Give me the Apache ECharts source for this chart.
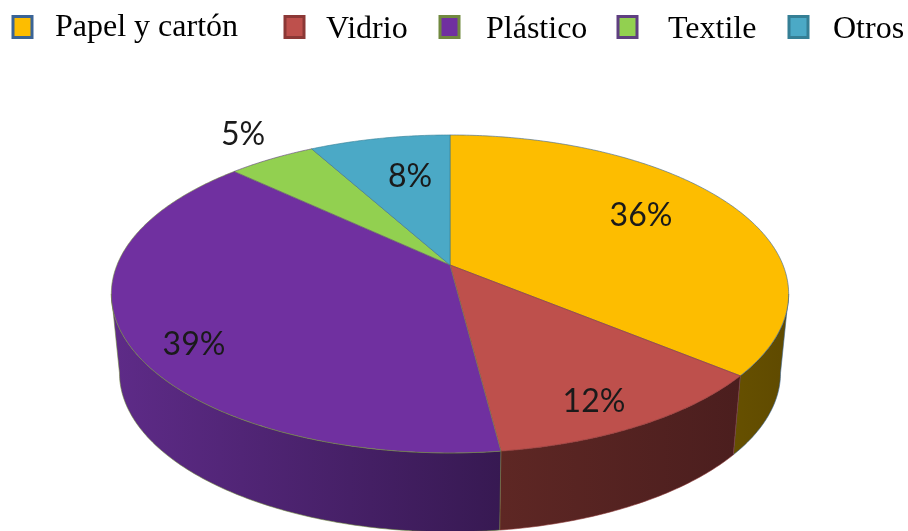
<!DOCTYPE html>
<html>
<head>
<meta charset="utf-8">
<style>html,body{margin:0;padding:0;background:#fff}#c{width:908px;height:531px}</style>
<script src="https://cdn.jsdelivr.net/npm/echarts@6/dist/echarts.min.js"></script>
</head>
<body>
<div id="c"></div>
<script>
// ---- data ----
const categories = ['Papel y cartón', 'Vidrio', 'Plástico', 'Textile', 'Otros'];
const shares = [36, 12, 39, 5, 8];

// ---- styles ----
const topColors = ['#FDBD00', '#BE504C', '#7030A0', '#92D050', '#4BA9C6'];
const edgeColors = ['#3A6496', '#8C3836', '#71893F', '#5F3F80', '#357F95'];
const wallFrom = ['#665000', '#5E2724', '#5E2B88', '#92D050', '#4BA9C6'];
const wallTo = ['#5F4A00', '#4B1E1E', '#371952', '#92D050', '#4BA9C6'];

// ---- layout ----
const P = {cx: 450, cy: 265, A: 333, B: 153.7, k: 0.182, sx: 0.976, d: 79};
const labelPos = [[641, 216], [594, 402], [194, 345], [243, 135], [410, 177]];
const legendLeft = [11.5, 283.5, 438.5, 616.5, 787.5];
const legendGap = [18, 17, 22, 26, 20];
const legendTextDrop = [1, 2.5, 2.5, 2.5, 2.5];

// the side wall runs between the two points where the rim is widest
const wallStart = Math.acos(-P.k) * 180 / Math.PI, wallEnd = 360 - wallStart;

function rim(deg) {
  const a = deg * Math.PI / 180, u = Math.sin(a), v = Math.cos(a), w = 1 + P.k * v;
  return [P.cx + P.A * u / w, P.cy - P.B * v / w];
}
function base(pt) {
  return [P.cx + P.sx * (pt[0] - P.cx), pt[1] + P.d];
}
function arc(a0, a1) {
  const n = Math.max(2, Math.ceil(Math.abs(a1 - a0) * 1.5)), out = [];
  for (let i = 0; i <= n; i++) out.push(rim(a0 + (a1 - a0) * i / n));
  return out;
}

const total = shares.reduce((s, v) => s + v, 0);
let running = 0;
const series = categories.map((name, i) => {
  const start = running; running += shares[i];
  return {
    type: 'custom', name, coordinateSystem: 'none', silent: true,
    itemStyle: {color: topColors[i]},
    data: [[start / total * 360, running / total * 360, shares[i]]],
    renderItem(params, api) {
      const a0 = api.value(0), a1 = api.value(1), children = [];
      const w0 = Math.max(a0, wallStart), w1 = Math.min(a1, wallEnd);
      if (w1 > w0) {
        const r = arc(w0, w1);
        children.push({
          type: 'polygon',
          shape: {points: r.concat(r.slice().reverse().map(base))},
          style: {
            fill: new echarts.graphic.LinearGradient(0, 0, 1, 0, [
              {offset: 0, color: wallFrom[i]}, {offset: 1, color: wallTo[i]}]),
            stroke: edgeColors[i], lineWidth: 0.6
          }
        });
      }
      children.push({
        type: 'polygon',
        shape: {points: [[P.cx, P.cy]].concat(arc(a0, a1))},
        style: {fill: topColors[i], stroke: edgeColors[i], lineWidth: 0.6}
      });
      children.push({
        type: 'text',
        style: {
          x: labelPos[i][0], y: labelPos[i][1], text: api.value(2) + '%',
          fontFamily: 'Lato', fontSize: 32, fill: '#1a1a1a',
          align: 'center', verticalAlign: 'middle'
        }
      });
      return {type: 'group', children};
    }
  };
});

// The marker sits in the upper part of its box, which lowers the text relative to it.
const legend = categories.map((name, i) => {
  const h = 21 + 2 * legendTextDrop[i];
  return {
    show: true, orient: 'horizontal', left: legendLeft[i], top: 11 + legendTextDrop[i],
    padding: 0, itemWidth: 19, itemHeight: h, selectedMode: false,
    data: [{
      name,
      icon: 'path://M0 0H19V21H0Z M0 ' + h + 'L0 ' + h,
      itemStyle: {color: topColors[i], borderColor: edgeColors[i], borderWidth: 3}
    }],
    textStyle: {
      fontFamily: 'Liberation Serif', fontSize: 32, color: '#000',
      padding: [0, 0, 0, legendGap[i]]
    }
  };
});

const chart = echarts.init(document.getElementById('c'), null, {renderer: 'canvas'});
chart.setOption({animation: false, backgroundColor: '#fff', legend, series});
</script>
</body>
</html>
